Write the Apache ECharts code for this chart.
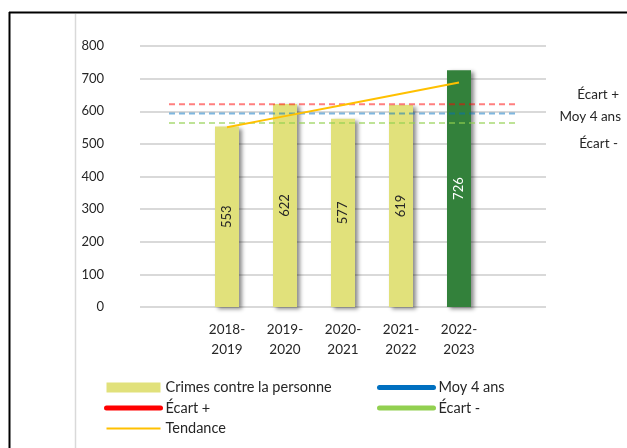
<!DOCTYPE html>
<html>
<head>
<meta charset="utf-8">
<script src="https://cdn.jsdelivr.net/npm/echarts@6/dist/echarts.min.js"></script>
<style>
html,body{margin:0;padding:0;background:#fff;}
#c{width:627px;height:448px;}
</style>
</head>
<body>
<div id="c"></div>
<script>
// Categories (first and last slots are empty in the original)
const categories = ['', '2018-\n2019', '2019-\n2020', '2020-\n2021', '2021-\n2022', '2022-\n2023', ''];
// Crimes contre la personne
const crimes = [null, 553, 622, 577, 619, 726, null];
// Moyenne 4 ans and deviation lines
const moy4 = [592.8, 592.8, 592.8, 592.8, 592.8, 592.8, 592.8];
const ecartPlus = [621.8, 621.8, 621.8, 621.8, 621.8, 621.8, 621.8];
const ecartMoins = [563.8, 563.8, 563.8, 563.8, 563.8, 563.8, 563.8];
// Tendance (trend line)
const tendance = [null, 550.8, 585.1, 619.4, 653.7, 688.0, null];
const yTicks = [0, 100, 200, 300, 400, 500, 600, 700, 800];

const FONT = 'Lato, "Open Sans", sans-serif';
const chart = echarts.init(document.getElementById('c'), null, {renderer: 'canvas'});

const barData = crimes.map((v, i) => {
  if (v === null) return null;
  const last = i === 5;
  return {
    value: v,
    itemStyle: {color: last ? '#33813B' : '#E1E17B'},
    label: {color: last ? '#FFFFFF' : '#262626'}
  };
});

const legendCommon = {
  orient: 'vertical', top: 380, padding: 0,
  itemWidth: 54, itemHeight: 10, itemGap: 5.5,
  textStyle: {fontSize: 14.5, lineHeight: 10, color: '#262626', fontFamily: FONT}
};
const hideSym = {opacity: 0};

chart.setOption({
  animation: false,
  backgroundColor: '#ffffff',
  grid: {left: 140, right: 81, top: 46, bottom: 141, containLabel: false},
  xAxis: {
    type: 'category',
    data: categories,
    boundaryGap: true,
    axisLine: {show: false},
    axisTick: {show: false},
    axisLabel: {interval: 0, margin: 13, lineHeight: 20, fontSize: 13.5, color: '#262626', fontFamily: FONT}
  },
  yAxis: {
    type: 'value',
    min: yTicks[0], max: yTicks[yTicks.length - 1], interval: 100,
    axisLine: {show: false},
    axisTick: {show: false},
    axisLabel: {margin: 36, fontSize: 13, color: '#262626', fontFamily: FONT},
    splitLine: {lineStyle: {color: '#D9D9D9', width: 2}}
  },
  legend: [
    Object.assign({}, legendCommon, {
      left: 104,
      data: [
        {name: 'Crimes contre la personne', icon: 'rect', itemStyle: {shadowBlur: 0, shadowOffsetX: 0, shadowOffsetY: 0, color: '#E1E17B'}},
        {name: 'Écart +', itemStyle: hideSym, lineStyle: {width: 5, type: 'solid', opacity: 1, color: '#FF0000', cap: 'round'}},
        {name: 'Tendance', itemStyle: hideSym, lineStyle: {width: 2, type: 'solid', opacity: 1, color: '#FFC000'}}
      ]
    }),
    Object.assign({}, legendCommon, {
      left: 377,
      data: [
        {name: 'Moy 4 ans', itemStyle: hideSym, lineStyle: {width: 5, type: 'solid', opacity: 1, color: '#0070C0', cap: 'round'}},
        {name: 'Écart -', itemStyle: hideSym, lineStyle: {width: 5, type: 'solid', opacity: 1, color: '#92D050', cap: 'round'}}
      ]
    })
  ],
  series: [
    {
      name: 'Crimes contre la personne',
      type: 'bar',
      data: barData,
      barWidth: 24,
      itemStyle: {color: '#E1E17B', shadowColor: 'rgba(0,0,0,0.45)', shadowBlur: 4, shadowOffsetX: 3, shadowOffsetY: 2},
      label: {show: true, position: 'inside', rotate: 90, fontSize: 13, fontFamily: FONT},
      z: 2
    },
    {
      name: 'Écart +', type: 'line', data: ecartPlus, symbol: 'none',
      lineStyle: {color: '#FF0000', width: 2, type: [6, 4], opacity: 0.5},
      itemStyle: {color: '#FF0000'}, z: 3
    },
    {
      name: 'Moy 4 ans', type: 'line', data: moy4, symbol: 'none',
      lineStyle: {color: '#0070C0', width: 2, type: [6, 4], opacity: 0.5},
      itemStyle: {color: '#0070C0'}, z: 3
    },
    {
      name: 'Écart -', type: 'line', data: ecartMoins, symbol: 'none',
      lineStyle: {color: '#92D050', width: 2, type: [6, 4], opacity: 0.6},
      itemStyle: {color: '#92D050'}, z: 3
    },
    {
      name: 'Tendance', type: 'line', data: tendance, symbol: 'none',
      lineStyle: {color: '#FFC000', width: 2},
      itemStyle: {color: '#FFC000'}, z: 4
    }
  ],
  graphic: [
    {type: 'line', shape: {x1: 9, y1: 12.5, x2: 640, y2: 12.5}, style: {stroke: '#000', lineWidth: 2}, silent: true},
    {type: 'line', shape: {x1: 9.5, y1: 12, x2: 9.5, y2: 460}, style: {stroke: '#000', lineWidth: 2}, silent: true},
    {type: 'line', shape: {x1: 75.5, y1: 14, x2: 75.5, y2: 460}, style: {stroke: '#D9D9D9', lineWidth: 1.5}, silent: true},
    {type: 'text', right: 8, top: 88, style: {text: 'Écart +', fontSize: 13.5, fill: '#262626', fontFamily: FONT, align: 'right'}},
    {type: 'text', right: 6, top: 110, style: {text: 'Moy 4 ans', fontSize: 13.5, fill: '#262626', fontFamily: FONT, align: 'right'}},
    {type: 'text', right: 9, top: 137, style: {text: 'Écart -', fontSize: 13.5, fill: '#262626', fontFamily: FONT, align: 'right'}}
  ]
});
</script>
</body>
</html>
